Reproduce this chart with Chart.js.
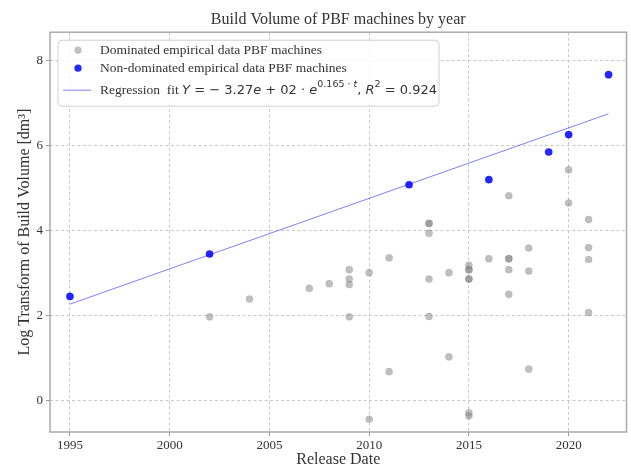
<!DOCTYPE html>
<html lang="en">
<head>
<meta charset="UTF-8" />
<title>Build Volume of PBF machines by year</title>
<style>
  html, body { margin: 0; padding: 0; background: #ffffff; }
  canvas { display: block; }
</style>
</head>
<body>
<canvas id="chart" width="631" height="469"></canvas>
<script src="https://cdn.jsdelivr.net/npm/chart.js"></script>
<script>
// dominated machines (grey)
const domYears = [2002, 2004, 2007, 2008,
  2009, 2009, 2009, 2009,
  2010, 2010, 2011, 2011,
  2013, 2013, 2013, 2013, 2013,
  2014, 2014,
  2015, 2015, 2015, 2015, 2015, 2015, 2015,
  2016,
  2017, 2017, 2017, 2017, 2017,
  2018, 2018, 2018,
  2020, 2020,
  2021, 2021, 2021, 2021];
const domValues = [1.96, 2.38, 2.63, 2.74,
  3.07, 2.85, 2.72, 1.96,
  3.00, -0.45, 3.35, 0.67,
  4.16, 4.16, 3.93, 2.85, 1.97,
  3.00, 1.02,
  3.17, 3.07, 3.07, 2.85, 2.85, -0.30, -0.37,
  3.33,
  4.81, 3.33, 3.33, 3.07, 2.49,
  3.58, 3.04, 0.73,
  5.42, 4.64,
  4.25, 3.59, 3.31, 2.06];

// non-dominated machines (blue)
const ndYears = [1995, 2002, 2012, 2016, 2019, 2020, 2022];
const ndValues = [2.44, 3.44, 5.07, 5.19, 5.84, 6.25, 7.66];

// regression fit line, read at the ends
const fitYears = [1995, 2022];
const fitValues = [2.26, 6.74];

const xTicks = [1995, 2000, 2005, 2010, 2015, 2020];
const yTicks = [0, 2, 4, 6, 8];

const serif = "'Liberation Serif', 'Times New Roman', serif";
const mathFont = "'DejaVu Sans', sans-serif";
const textColor = '#333333';

function toPoints(xs, ys) {
  return xs.map((x, i) => ({ x: x, y: ys[i] }));
}

// matplotlib-like frame round the plot
const framePlugin = {
  id: 'frame',
  afterDraw(chart) {
    const { ctx, chartArea: a } = chart;
    ctx.save();
    ctx.strokeStyle = '#aaaaaa';
    ctx.lineWidth = 1.5;
    ctx.strokeRect(a.left, a.top, a.right - a.left, a.bottom - a.top);
    ctx.restore();
  }
};

// legend box inside the plot, with the fit formula
const legendPlugin = {
  id: 'boxLegend',
  afterDatasetsDraw(chart) {
    const { ctx, chartArea: a } = chart;
    const x0 = a.left + 8, y0 = a.top + 8, w = 381, h = 66, r = 4;
    ctx.save();
    ctx.beginPath();
    ctx.moveTo(x0 + r, y0);
    ctx.arcTo(x0 + w, y0, x0 + w, y0 + h, r);
    ctx.arcTo(x0 + w, y0 + h, x0, y0 + h, r);
    ctx.arcTo(x0, y0 + h, x0, y0, r);
    ctx.arcTo(x0, y0, x0 + w, y0, r);
    ctx.closePath();
    ctx.fillStyle = 'rgba(255,255,255,0.8)';
    ctx.fill();
    ctx.strokeStyle = '#d0d0d0';
    ctx.lineWidth = 1;
    ctx.stroke();

    const mx = a.left + 28, tx = a.left + 50;
    const rows = [a.top + 18, a.top + 36, a.top + 58];

    ctx.beginPath();
    ctx.arc(mx, rows[0], 3.6, 0, Math.PI * 2);
    ctx.fillStyle = 'rgba(128,128,128,0.5)';
    ctx.fill();
    ctx.beginPath();
    ctx.arc(mx, rows[1], 3.6, 0, Math.PI * 2);
    ctx.fillStyle = 'rgba(0,0,255,0.85)';
    ctx.fill();
    ctx.beginPath();
    ctx.moveTo(a.left + 13, rows[2]);
    ctx.lineTo(a.left + 41, rows[2]);
    ctx.strokeStyle = 'rgba(0,0,255,0.5)';
    ctx.lineWidth = 1;
    ctx.stroke();

    ctx.fillStyle = textColor;
    ctx.textBaseline = 'middle';
    ctx.font = '13.5px ' + serif;
    ctx.fillText('Dominated empirical data PBF machines', tx, rows[0]);
    ctx.fillText('Non-dominated empirical data PBF machines', tx, rows[1]);

    const segs = [
      { t: 'Regression  fit ', f: '13.5px ' + serif, dy: 0 },
      { t: 'Y', f: 'italic 13px ' + mathFont, dy: 0 },
      { t: ' = \u2212 3.27', f: '13px ' + mathFont, dy: 0 },
      { t: 'e', f: 'italic 13px ' + mathFont, dy: 0 },
      { t: ' + 02 \u00b7 ', f: '13px ' + mathFont, dy: 0 },
      { t: 'e', f: 'italic 13px ' + mathFont, dy: 0 },
      { t: '0.165 \u00b7 ', f: '9.5px ' + mathFont, dy: -5.5 },
      { t: 't', f: 'italic 9.5px ' + mathFont, dy: -5.5 },
      { t: ', ', f: '13px ' + mathFont, dy: 0 },
      { t: 'R', f: 'italic 13px ' + mathFont, dy: 0 },
      { t: '2', f: '9.5px ' + mathFont, dy: -5.5 },
      { t: ' = 0.924', f: '13px ' + mathFont, dy: 0 }
    ];
    let cx = tx;
    segs.forEach(s => {
      ctx.font = s.f;
      ctx.fillText(s.t, cx, rows[2] + s.dy);
      cx += ctx.measureText(s.t).width;
    });
    ctx.restore();
  }
};

const ctx = document.getElementById('chart').getContext('2d');

const gridOpts = {
  color: '#c8c8c8',
  drawTicks: true,
  tickLength: 4,
  tickBorderDash: [],
  tickColor: '#999999'
};

new Chart(ctx, {
  type: 'scatter',
  data: {
    datasets: [
      {
        label: 'Regression fit',
        type: 'line',
        data: toPoints(fitYears, fitValues),
        borderColor: 'rgba(0,0,255,0.5)',
        borderWidth: 1,
        pointRadius: 0,
        fill: false,
        order: 3
      },
      {
        label: 'Dominated empirical data PBF machines',
        data: toPoints(domYears, domValues),
        backgroundColor: 'rgba(128,128,128,0.5)',
        borderColor: 'rgba(128,128,128,0.3)',
        borderWidth: 0.5,
        pointRadius: 3.6,
        order: 2
      },
      {
        label: 'Non-dominated empirical data PBF machines',
        data: toPoints(ndYears, ndValues),
        backgroundColor: 'rgba(0,0,255,0.85)',
        borderColor: 'rgba(0,0,255,0.85)',
        borderWidth: 0.5,
        pointRadius: 3.6,
        order: 1
      }
    ]
  },
  options: {
    responsive: false,
    animation: false,
    layout: { padding: { left: 0, right: 3, top: 0, bottom: 0 } },
    plugins: {
      legend: { display: false },
      tooltip: { enabled: false },
      title: {
        display: true,
        fullSize: false,
        text: 'Build Volume of PBF machines by year',
        color: textColor,
        font: { family: serif, size: 16, weight: 'normal', lineHeight: 1.2 },
        padding: { top: 10, bottom: 3 }
      }
    },
    scales: {
      x: {
        type: 'linear',
        min: 1994,
        max: 2022.9,
        afterBuildTicks: s => { s.ticks = xTicks.map(v => ({ value: v })); },
        afterFit: s => { s.height = 37; },
        border: { display: false, dash: [3, 2.5] },
        grid: gridOpts,
        ticks: {
          color: textColor,
          padding: 2,
          maxRotation: 0,
          font: { family: serif, size: 13 },
          callback: v => String(v)
        },
        title: {
          display: true,
          text: 'Release Date',
          color: textColor,
          font: { family: serif, size: 16, lineHeight: 1.1 },
          padding: { top: 0, bottom: 0 }
        }
      },
      y: {
        type: 'linear',
        min: -0.75,
        max: 8.66,
        afterBuildTicks: s => { s.ticks = yTicks.map(v => ({ value: v })); },
        afterFit: s => { s.width = 50; },
        border: { display: false, dash: [3, 2.5] },
        grid: gridOpts,
        ticks: {
          color: textColor,
          padding: 3,
          font: { family: serif, size: 13 },
          callback: v => String(v)
        },
        title: {
          display: true,
          text: 'Log Transform of Build Volume [dm\u00b3]',
          color: textColor,
          font: { family: serif, size: 16 },
          padding: { top: 15, bottom: 0 }
        }
      }
    }
  },
  plugins: [legendPlugin, framePlugin]
});
</script>
</body>
</html>
